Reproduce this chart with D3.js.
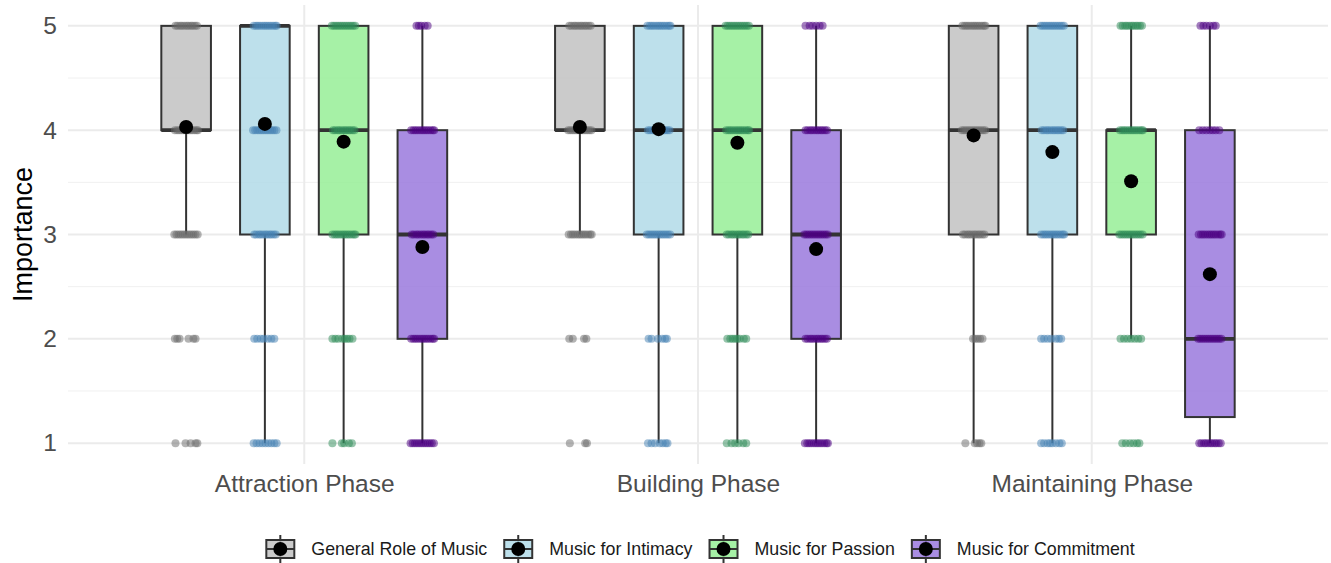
<!DOCTYPE html>
<html>
<head>
<meta charset="utf-8">
<script src="https://cdn.jsdelivr.net/npm/d3@7"></script>
<style>
  body { margin: 0; background: #fff; }
  text { font-family: "Liberation Sans", Arial, sans-serif; }
</style>
</head>
<body>
<div id="chart"></div>
<script>
// * Data
var phases = ["Attraction Phase", "Building Phase", "Maintaining Phase"];
var roles = ["General Role of Music", "Music for Intimacy", "Music for Passion", "Music for Commitment"];
var yTicks = [1, 2, 3, 4, 5];

// box stats, [phase][role]
var q1 = [[4, 3, 3, 2], [4, 3, 3, 2], [3, 3, 3, 1.25]];
var medians = [[4, 5, 4, 3], [4, 4, 4, 3], [4, 4, 4, 2]];
var q3 = [[5, 5, 5, 4], [5, 5, 5, 4], [5, 5, 4, 4]];
var whiskerLow = [[3, 1, 1, 1], [3, 1, 1, 1], [1, 1, 2, 1]];
var whiskerHigh = [[5, 5, 5, 5], [5, 5, 5, 5], [5, 5, 5, 5]];
var means = [[4.03, 4.06, 3.89, 2.88], [4.03, 4.01, 3.88, 2.86], [3.95, 3.79, 3.51, 2.62]];

// jittered responses: for each box, offsets (-1..1) of answers at levels 1..5
var denseA = [-1, -0.82, -0.64, -0.46, -0.28, -0.1, 0.08, 0.26, 0.44, 0.62, 0.8, 0.98];
var denseB = [-0.95, -0.75, -0.58, -0.4, -0.2, -0.02, 0.15, 0.33, 0.5, 0.7, 0.88, 1];
var denseC = [-0.9, -0.72, -0.5, -0.35, -0.15, 0.05, 0.2, 0.4, 0.55, 0.75, 0.92];
var jitter = [
  [ // Attraction
    [[-0.9, -0.05, 0.38, 0.8, 0.95], [-0.95, -0.75, -0.55, 0.2, 0.62, 0.8], denseA, denseB, denseC],
    [[-0.95, -0.7, -0.45, -0.2, 0.05, 0.3, 0.55, 0.8, 1], [-0.9, -0.65, -0.35, -0.1, 0.25, 0.55, 0.8], denseC, denseA, denseB],
    [[-0.95, -0.15, 0.05, 0.45, 0.7], [-0.95, -0.7, -0.45, -0.1, 0.1, 0.3, 0.5, 0.75], denseB, denseC, denseA],
    [denseA, denseB, denseC, denseB, [-0.5, -0.3, -0.1, 0.2, 0.45]]
  ],
  [ // Building
    [[-0.85, 0.45, 0.6], [-0.9, -0.6, 0.35, 0.55], denseB, denseA, denseC],
    [[-0.9, -0.6, -0.3, 0.1, 0.35, 0.6, 0.75], [-0.85, -0.6, -0.05, 0.3, 0.55, 0.7], denseA, denseC, denseB],
    [[-0.9, -0.5, -0.2, 0.1, 0.5, 0.75], [-0.85, -0.6, -0.4, -0.2, 0, 0.2, 0.55, 0.75], denseC, denseB, denseA],
    [denseB, denseC, denseA, denseC, [-0.9, -0.55, -0.3, 0, 0.3, 0.55]]
  ],
  [ // Maintaining
    [[-0.7, 0.1, 0.3, 0.5, 0.65], [-0.05, 0.15, 0.35, 0.55, 0.75], denseC, denseA, denseB],
    [[-0.95, -0.7, -0.4, -0.2, 0, 0.3, 0.6, 0.8], [-0.95, -0.7, -0.4, -0.1, 0.3, 0.55, 0.75], denseB, denseC, denseA],
    [[-0.75, -0.45, -0.1, 0.2, 0.5, 0.7], [-0.9, -0.6, -0.3, 0, 0.3, 0.6, 0.85], denseA, denseB, denseC],
    [denseC, denseA, denseB, [-0.9, -0.6, -0.3, 0, 0.25, 0.5, 0.8], [-0.8, -0.55, -0.3, 0, 0.3, 0.5]]
  ]
];

// * Styles
var boxFills = ["#BEBEBE", "#ADD8E6", "#90EE90", "#9370DB"];
var pointColors = ["#696969", "#4682B4", "#2E8B57", "#4B0082"];

var width = 1331, height = 563;
var boxWidth = 0.126, jitterHalf = 0.03;

var x = d3.scaleLinear().domain([0.4, 3.6]).range([68, 1328]);
var y = d3.scaleLinear().domain([0.8, 5.2]).range([464, 5]);
var dodge = d3.scaleBand().domain(roles).range([-0.4, 0.4]);

var svg = d3.select("#chart").append("svg")
  .attr("width", width)
  .attr("height", height);

// * grid
var grid = svg.append("g");
grid.selectAll(".minor").data([1.5, 2.5, 3.5, 4.5]).enter().append("line")
  .attr("x1", x(0.4)).attr("x2", x(3.6))
  .attr("y1", function (d) { return y(d); }).attr("y2", function (d) { return y(d); })
  .attr("stroke", "#f0f0f0").attr("stroke-width", 1);
grid.selectAll(".major").data(yTicks).enter().append("line")
  .attr("x1", x(0.4)).attr("x2", x(3.6))
  .attr("y1", function (d) { return y(d); }).attr("y2", function (d) { return y(d); })
  .attr("stroke", "#ebebeb").attr("stroke-width", 2);
grid.selectAll(".vmajor").data([1, 2, 3]).enter().append("line")
  .attr("x1", function (d) { return x(d); }).attr("x2", function (d) { return x(d); })
  .attr("y1", y(5.2)).attr("y2", y(0.8))
  .attr("stroke", "#ebebeb").attr("stroke-width", 2);

// * axes
var yAxis = svg.append("g").attr("transform", "translate(68,0)")
  .call(d3.axisLeft(y).tickValues(yTicks).tickSize(0).tickPadding(11).tickFormat(d3.format("d")));
yAxis.select(".domain").remove();
yAxis.selectAll("text").style("font-size", "24.5px").attr("fill", "#4d4d4d")
  .style("font-family", "'Liberation Sans', Arial, sans-serif");

var xAxis = svg.append("g").attr("transform", "translate(0,464)")
  .call(d3.axisBottom(x).tickValues([1, 2, 3]).tickSize(0).tickPadding(11)
    .tickFormat(function (d) { return phases[d - 1]; }));
xAxis.select(".domain").remove();
xAxis.selectAll("text").style("font-size", "24.5px").attr("fill", "#4d4d4d")
  .style("font-family", "'Liberation Sans', Arial, sans-serif");

svg.append("text")
  .attr("transform", "translate(32," + y(3) + ") rotate(-90)")
  .style("text-anchor", "middle")
  .style("font-size", "27px")
  .attr("fill", "#000")
  .text("Importance");

// * build box records
var boxes = [];
phases.forEach(function (p, i) {
  roles.forEach(function (r, j) {
    boxes.push({
      phase: i, role: j,
      cx: i + 1 + dodge(r) + dodge.bandwidth() / 2,
      q1: q1[i][j], med: medians[i][j], q3: q3[i][j],
      lo: whiskerLow[i][j], hi: whiskerHigh[i][j], mean: means[i][j]
    });
  });
});

var bx = svg.append("g");
// whiskers
bx.selectAll(".wlo").data(boxes).enter().append("line")
  .attr("x1", function (d) { return x(d.cx); }).attr("x2", function (d) { return x(d.cx); })
  .attr("y1", function (d) { return y(d.lo); }).attr("y2", function (d) { return y(d.q1); })
  .attr("stroke", "#333").attr("stroke-width", 2);
bx.selectAll(".whi").data(boxes).enter().append("line")
  .attr("x1", function (d) { return x(d.cx); }).attr("x2", function (d) { return x(d.cx); })
  .attr("y1", function (d) { return y(d.q3); }).attr("y2", function (d) { return y(d.hi); })
  .attr("stroke", "#333").attr("stroke-width", 2);
// boxes
bx.selectAll(".box").data(boxes).enter().append("rect")
  .attr("x", function (d) { return x(d.cx - boxWidth / 2); })
  .attr("width", x(boxWidth) - x(0))
  .attr("y", function (d) { return y(d.q3); })
  .attr("height", function (d) { return y(d.q1) - y(d.q3); })
  .attr("fill", function (d) { return boxFills[d.role]; })
  .attr("fill-opacity", 0.8)
  .attr("stroke", "#333").attr("stroke-width", 2);
// medians
bx.selectAll(".med").data(boxes).enter().append("line")
  .attr("x1", function (d) { return x(d.cx - boxWidth / 2); })
  .attr("x2", function (d) { return x(d.cx + boxWidth / 2); })
  .attr("y1", function (d) { return y(d.med); }).attr("y2", function (d) { return y(d.med); })
  .attr("stroke", "#333").attr("stroke-width", 3.8);

// * jittered responses
var pts = [];
boxes.forEach(function (b) {
  jitter[b.phase][b.role].forEach(function (offs, k) {
    offs.forEach(function (o) {
      pts.push({ x: b.cx + o * jitterHalf, v: k + 1, role: b.role });
    });
  });
});
svg.append("g").selectAll("circle").data(pts).enter().append("circle")
  .attr("cx", function (d) { return x(d.x); })
  .attr("cy", function (d) { return y(d.v); })
  .attr("r", 4)
  .attr("fill", function (d) { return pointColors[d.role]; })
  .attr("fill-opacity", 0.5);

// * means
svg.append("g").selectAll("circle").data(boxes).enter().append("circle")
  .attr("cx", function (d) { return x(d.cx); })
  .attr("cy", function (d) { return y(d.mean); })
  .attr("r", 7)
  .attr("fill", "#000");

// * legend
var legend = svg.append("g");
var items = legend.selectAll("g").data(roles).enter().append("g");
items.append("line")
  .attr("x1", 14).attr("x2", 14).attr("y1", -14).attr("y2", 14)
  .attr("stroke", "#333").attr("stroke-width", 2);
items.append("rect")
  .attr("x", 0).attr("y", -9).attr("width", 28).attr("height", 18)
  .attr("fill", function (d, i) { return boxFills[i]; })
  .attr("fill-opacity", 0.8)
  .attr("stroke", "#333").attr("stroke-width", 2);
items.append("line")
  .attr("x1", 0).attr("x2", 28).attr("y1", 0).attr("y2", 0)
  .attr("stroke", "#333").attr("stroke-width", 2);
items.append("circle")
  .attr("cx", 14).attr("cy", 0).attr("r", 7).attr("fill", "#000");
items.append("text")
  .attr("x", 45).attr("y", 6)
  .style("font-size", "17.8px")
  .attr("fill", "#1a1a1a")
  .text(function (d) { return d; });

var pos = 0, offsets = [];
items.each(function () {
  offsets.push(pos);
  var tw = d3.select(this).select("text").node().getComputedTextLength();
  pos += 45 + tw + 17;
});
var total = pos - 17;
var startX = 700.5 - total / 2;
items.attr("transform", function (d, i) { return "translate(" + (startX + offsets[i]) + ",549)"; });
</script>
</body>
</html>
